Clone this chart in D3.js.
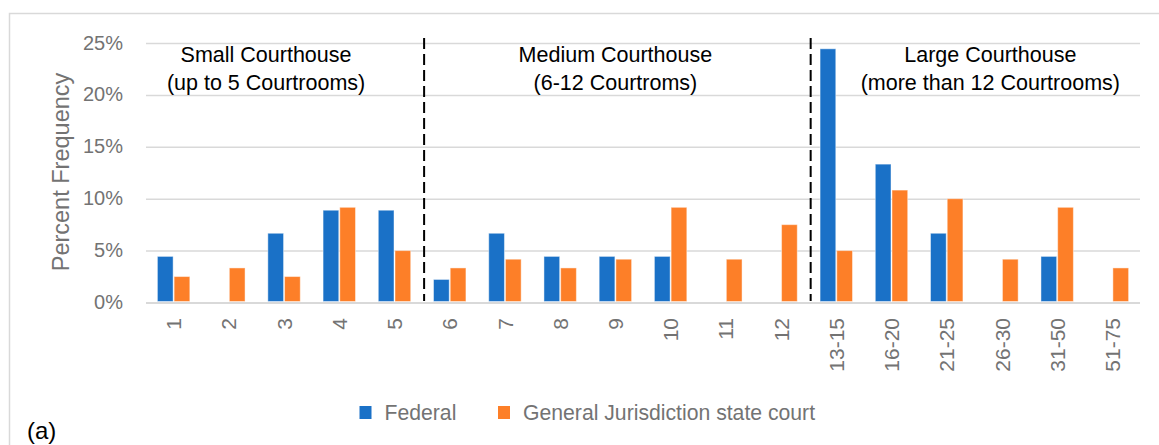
<!DOCTYPE html>
<html>
<head>
<meta charset="utf-8">
<script src="https://cdn.jsdelivr.net/npm/d3@7"></script>
<style>
  body { margin: 0; background: #fff; }
  text { font-family: "Liberation Sans", Arial, sans-serif; }
</style>
</head>
<body>
<script>
const W = 1159, H = 445;

// data (percent)
const categories = ["1", "2", "3", "4", "5", "6", "7", "8", "9", "10", "11", "12",
    "13-15", "16-20", "21-25", "26-30", "31-50", "51-75"];
const federal = [4.44, 0, 6.67, 8.89, 8.89, 2.22, 6.67, 4.44, 4.44, 4.44, 0, 0,
    24.44, 13.33, 6.67, 0, 4.44, 0];
const stateCourt = [2.5, 3.33, 2.5, 9.17, 5.0, 3.33, 4.17, 3.33, 4.17, 9.17, 4.17, 7.5,
    5.0, 10.83, 10.0, 4.17, 9.17, 3.33];
const seriesNames = ["Federal", "General Jurisdiction state court"];
const yTicks = [0, 5, 10, 15, 20, 25];

// courthouse size groups
const groupTitles = ["Small Courthouse", "Medium Courthouse", "Large Courthouse"];
const groupSubtitles = ["(up to 5 Courtrooms)", "(6-12 Courtroms)", "(more than 12 Courtrooms)"];
const groupFirst = ["1", "6", "13-15"];
const groupLast = ["5", "12", "51-75"];

const colors = ["#1a71c7", "#fd7f28"];
const gray = "#737373";
const gridColor = "#d9d9d9";

////  Canvas  ////
const svg = d3.select("body").append("svg").attr("width", W).attr("height", H);
svg.append("rect").attr("width", W).attr("height", H).attr("fill", "#fff");

// chart frame
svg.append("rect")
    .attr("x", 9.5).attr("y", 13.5)
    .attr("width", W + 10).attr("height", H + 10)
    .attr("fill", "none")
    .attr("stroke", gridColor)
    .attr("stroke-width", 1.5);

////  Scales  ////
const plotLeft = 146, plotRight = 1140, plotTop = 43, plotBottom = 302.5;

const x = d3.scaleBand()
    .domain(categories)
    .range([plotLeft, plotRight])
    .paddingInner(0.413)
    .paddingOuter(0.2065);

const xs = d3.scaleBand()
    .domain([0, 1])
    .range([0, x.bandwidth()])
    .paddingInner(0.06);

const y = d3.scaleLinear()
    .domain([0, 25])
    .range([plotBottom, plotTop]);

////  Gridlines + y axis  ////
const yAxis = svg.append("g")
    .attr("transform", `translate(${plotLeft},0)`)
    .call(d3.axisLeft(y)
        .tickValues(yTicks)
        .tickSize(-(plotRight - plotLeft))
        .tickPadding(23)
        .tickFormat(d => d + "%"));
yAxis.select(".domain").remove();
yAxis.selectAll(".tick line")
    .attr("stroke", gridColor)
    .attr("stroke-width", d => d === 0 ? 2 : 1.5);
yAxis.selectAll(".tick text")
    .attr("fill", gray)
    .attr("font-size", "20px")
    .attr("dy", "0.3em");

svg.append("text")
    .attr("transform", "translate(61,172) rotate(-90)")
    .attr("text-anchor", "middle")
    .attr("dy", "0.35em")
    .attr("font-size", "23.5px")
    .attr("fill", gray)
    .text("Percent Frequency");

////  x axis  ////
const xAxis = svg.append("g")
    .attr("transform", `translate(0,${plotBottom})`)
    .call(d3.axisBottom(x).tickSize(0));
xAxis.select(".domain").remove();
xAxis.selectAll(".tick text")
    .attr("transform", "rotate(-90)")
    .attr("x", -15.5)
    .attr("y", 0)
    .attr("dy", "0.36em")
    .attr("text-anchor", "end")
    .attr("font-size", "21px")
    .attr("fill", gray);

////  Bars  ////
const rows = categories.map((c, i) => ({cat: c, vals: [federal[i], stateCourt[i]]}));

const cat = svg.append("g").selectAll("g")
    .data(rows)
    .enter()
    .append("g")
    .attr("transform", d => `translate(${x(d.cat)},0)`);

cat.selectAll("rect")
    .data(d => d.vals.map((v, k) => ({k, v})).filter(o => o.v > 0))
    .enter()
    .append("rect")
    .attr("x", d => xs(d.k))
    .attr("y", d => y(d.v))
    .attr("width", xs.bandwidth())
    .attr("height", d => y(0) - y(d.v) - 1)
    .attr("fill", d => colors[d.k])
    .attr("stroke", "#fff")
    .attr("stroke-opacity", 0.45)
    .attr("stroke-width", 1);

////  Group separators and labels  ////
const step = x.step();
const boundary = c => x(c) - step * x.paddingInner() / 2;

[groupFirst[1], groupFirst[2]].forEach(c => {
    svg.append("line")
        .attr("x1", boundary(c) + 2).attr("x2", boundary(c) + 2)
        .attr("y1", 38).attr("y2", 301)
        .attr("stroke", "#000")
        .attr("stroke-width", 2)
        .attr("stroke-dasharray", "11,5");
});

const labelShift = [-18, 0, 16];
groupTitles.forEach((t, i) => {
    const x0 = boundary(groupFirst[i]);
    const x1 = x(groupLast[i]) + x.bandwidth() + step * x.paddingInner() / 2;
    const cx = (x0 + x1) / 2 + labelShift[i];
    const lbl = svg.append("text")
        .attr("text-anchor", "middle")
        .attr("font-size", "21.5px")
        .attr("fill", "#000");
    lbl.append("tspan").attr("x", cx).attr("y", 62).text(t);
    lbl.append("tspan").attr("x", cx).attr("y", 90).text(groupSubtitles[i]);
});

////  Legend  ////
const legendX = [359.5, 498];
seriesNames.forEach((name, i) => {
    svg.append("rect")
        .attr("x", legendX[i]).attr("y", 406)
        .attr("width", 12).attr("height", 13)
        .attr("fill", colors[i]);
    svg.append("text")
        .attr("x", legendX[i] + 25).attr("y", 419.5)
        .attr("font-size", "21.2px")
        .attr("fill", gray)
        .text(name);
});

svg.append("text")
    .attr("x", 27).attr("y", 439)
    .attr("font-size", "24px")
    .attr("fill", "#000")
    .text("(a)");
</script>
</body>
</html>
